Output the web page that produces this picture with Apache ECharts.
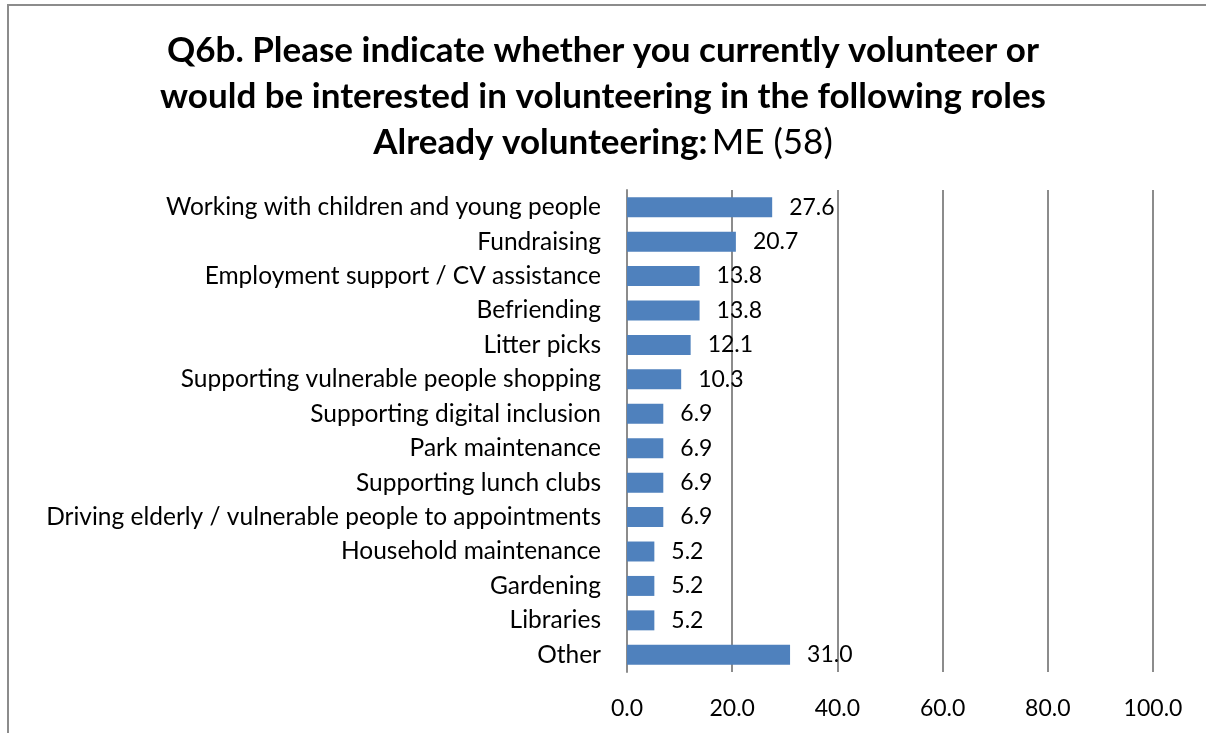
<!doctype html>
<html>
<head>
<meta charset="utf-8">
<title>Q6b</title>
<script src="https://cdn.jsdelivr.net/npm/echarts@6/dist/echarts.min.js"></script>
<style>
  html, body { margin: 0; padding: 0; background: #fff; }
  #chart { width: 1206px; height: 733px; }
</style>
</head>
<body>
<div id="chart"></div>
<script>
// categories, top to bottom
var roles = [
  'Working with children and young people',
  'Fundraising',
  'Employment support / CV assistance',
  'Befriending',
  'Litter picks',
  'Supporting vulnerable people shopping',
  'Supporting digital inclusion',
  'Park maintenance',
  'Supporting lunch clubs',
  'Driving elderly / vulnerable people to appointments',
  'Household maintenance',
  'Gardening',
  'Libraries',
  'Other'
];
var pct = [27.6, 20.7, 13.8, 13.8, 12.1, 10.3, 6.9, 6.9, 6.9, 6.9, 5.2, 5.2, 5.2, 31.0];
var xTicks = [0, 20, 40, 60, 80, 100];

var font = 'Lato';
var chart = echarts.init(document.getElementById('chart'));
var option = {
  backgroundColor: '#fff',
  animation: false,
  textStyle: { fontFamily: font },
  graphic: [{
    type: 'rect',
    shape: { x: 8, y: 5, width: 1300, height: 900 },
    style: { fill: 'none', stroke: '#8c8c8c', lineWidth: 2 },
    silent: true
  }],
  title: {
    left: 'center',
    top: 23,
    text: '{b|Q6b. Please indicate whether you currently volunteer or}\n' +
          '{b|would be interested in volunteering in the following roles}\n' +
          '{b|Already volunteering:} {n|ME (58)}',
    textStyle: {
      rich: {
        b: { fontFamily: font, fontSize: 35, fontWeight: 'bold', color: '#000', lineHeight: 46 },
        n: { fontFamily: font, fontSize: 35, fontWeight: 'normal', color: '#000', lineHeight: 46 }
      }
    }
  },
  grid: { left: 627, right: 53, top: 190, bottom: 61, containLabel: false },
  xAxis: {
    type: 'value',
    min: xTicks[0],
    max: xTicks[xTicks.length - 1],
    interval: 20,
    axisLine: { show: false },
    axisTick: { show: false },
    splitLine: { lineStyle: { color: '#8c8c8c', width: 2 } },
    axisLabel: {
      color: '#000', fontSize: 23, fontFamily: font, margin: 25,
      formatter: function (v) { return v.toFixed(1); }
    }
  },
  yAxis: {
    type: 'category',
    inverse: true,
    data: roles,
    axisLine: { show: true, lineStyle: { color: '#8c8c8c', width: 2 } },
    axisTick: { show: false },
    axisLabel: { color: '#000', fontSize: 24.5, fontFamily: font, margin: 26 }
  },
  series: [{
    type: 'bar',
    data: pct,
    barCategoryGap: '42%',
    itemStyle: { color: '#4f81bd' },
    label: {
      show: true,
      position: 'right',
      distance: 17,
      color: '#000',
      fontSize: 23,
      fontFamily: font,
      formatter: function (p) { return p.value.toFixed(1); }
    }
  }]
};
chart.setOption(option);
</script>
</body>
</html>
